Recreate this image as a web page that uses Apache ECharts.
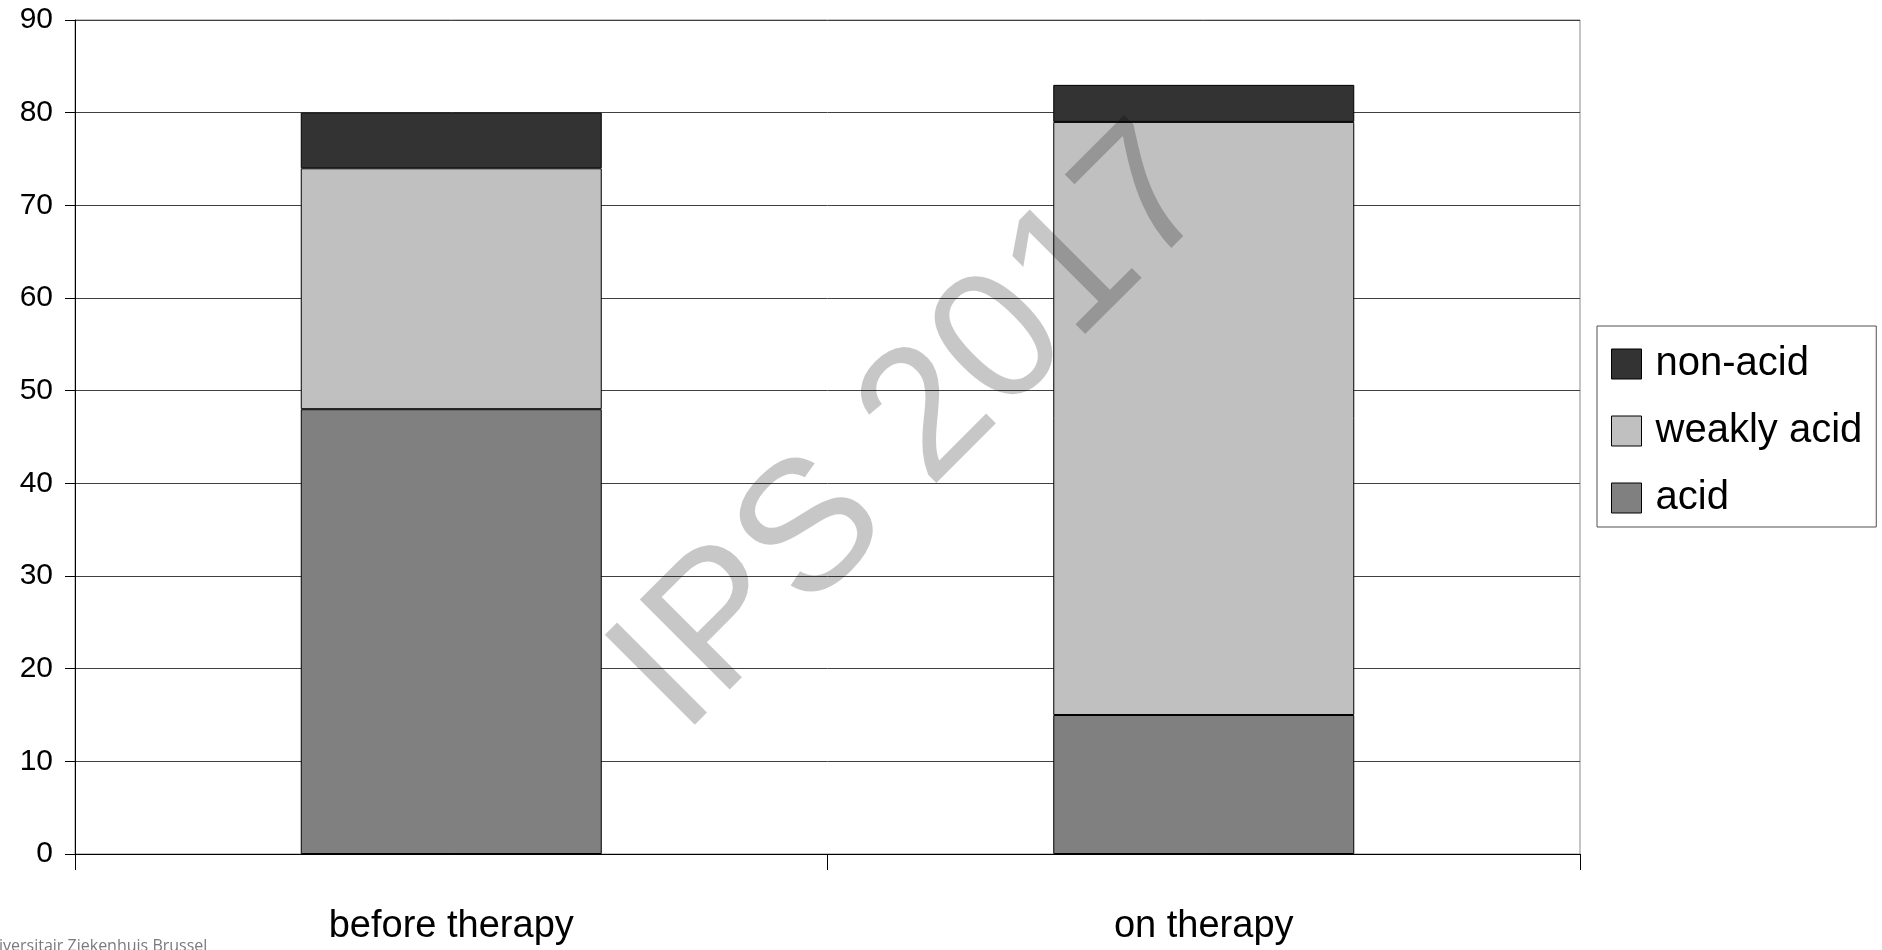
<!DOCTYPE html>
<html>
<head>
<meta charset="utf-8">
<script src="https://cdn.jsdelivr.net/npm/echarts@6/dist/echarts.min.js"></script>
<style>
html,body{margin:0;padding:0;background:#fff;}
#chart{width:1882px;height:950px;}
</style>
</head>
<body>
<div id="chart"></div>
<script>
// ---- data ----
const categories = ['before therapy', 'on therapy'];
const acid = [48, 15];
const weaklyAcid = [26, 64];
const nonAcid = [6, 4];
const seriesNames = ['acid', 'weakly acid', 'non-acid'];
const legendOrder = ['non-acid', 'weakly acid', 'acid'];
const yTicks = { min: 0, max: 90, interval: 10 };
const watermarkText = 'IPS 2017';
const footerText = 'iversitair Ziekenhuis Brussel';

const colors = { 'acid': '#808080', 'weakly acid': '#c0c0c0', 'non-acid': '#333333' };
const values = { 'acid': acid, 'weakly acid': weaklyAcid, 'non-acid': nonAcid };

const chart = echarts.init(document.getElementById('chart'));
const FONT = '"Liberation Sans", Arial, sans-serif';

chart.setOption({
  animation: false,
  backgroundColor: '#ffffff',
  grid: { left: 75, right: 302, top: 20, bottom: 96, show: true, borderColor: '#8a8a8a', borderWidth: 1, backgroundColor: 'transparent' },
  legend: {
    data: legendOrder,
    orient: 'vertical',
    left: 1597,
    top: 326,
    padding: [18, 14, 9, 14],
    itemWidth: 30,
    itemHeight: 30,
    itemGap: 27,
    itemStyle: { borderColor: '#000', borderWidth: 1 },
    borderColor: '#505050',
    borderWidth: 1,
    icon: 'rect',
    textStyle: { fontFamily: FONT, fontSize: 40, color: '#000', lineHeight: 40, padding: [0, 0, 0, 9] }
  },
  xAxis: {
    type: 'category',
    data: categories,
    axisLine: { lineStyle: { color: '#000', width: 1 } },
    axisTick: { show: true, length: 16, lineStyle: { color: '#000' } },
    axisLabel: { fontFamily: FONT, fontSize: 38, color: '#000', margin: 54 }
  },
  yAxis: {
    type: 'value',
    min: yTicks.min,
    max: yTicks.max,
    interval: yTicks.interval,
    axisLine: { show: true, lineStyle: { color: '#000', width: 1 } },
    axisTick: { show: true, length: 10, lineStyle: { color: '#000' } },
    axisLabel: { fontFamily: FONT, fontSize: 30, color: '#000', margin: 22 },
    splitLine: { show: true, lineStyle: { color: '#404040', width: 1 } }
  },
  series: seriesNames.map(n => ({
    name: n,
    type: 'bar',
    stack: 'total',
    barWidth: '40%',
    data: values[n],
    itemStyle: { color: colors[n], borderColor: '#000', borderWidth: 1 }
  })),
  graphic: [
    {
      type: 'text',
      x: 712, y: 766,
      rotation: Math.PI / 4,
      z: 100,
      silent: true,
      style: {
        text: watermarkText,
        font: '185px "Liberation Sans", Arial, sans-serif',
        fill: 'rgba(0,0,0,0.22)',
        textAlign: 'left',
        textVerticalAlign: 'bottom'
      }
    },
    {
      type: 'text',
      x: -1, y: 938,
      z: 100,
      silent: true,
      style: {
        text: footerText,
        font: '16px "Open Sans", sans-serif',
        fill: '#7a7a7a',
        textAlign: 'left',
        textVerticalAlign: 'top'
      }
    }
  ]
});
</script>
</body>
</html>
